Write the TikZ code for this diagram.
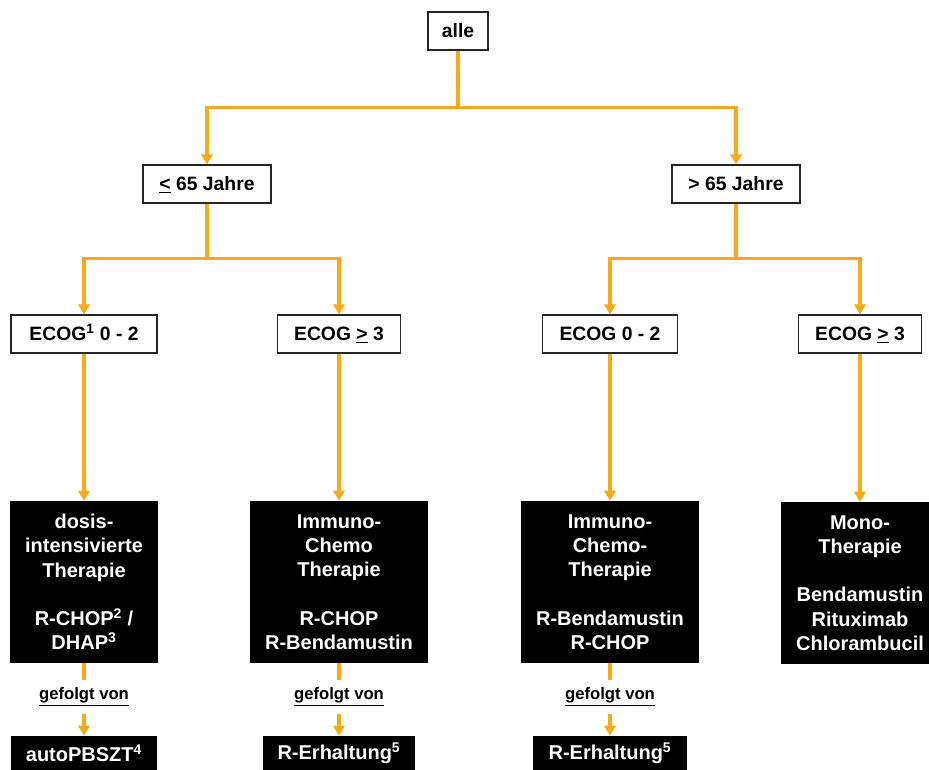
\documentclass[tikz,border=0pt]{standalone}
\usepackage{fontspec}
\setmainfont{Liberation Sans}
\usetikzlibrary{arrows.meta,positioning}
\definecolor{flowor}{RGB}{248,169,28}

\begin{document}
\begin{tikzpicture}[x=0.75pt,y=-0.75pt,
  box/.style={draw=black!85, line width=0.9pt, fill=white,
    font=\bfseries\fontsize{14.5}{18}\selectfont, minimum height=28.5pt,
    text height=10.5pt, text depth=1.5pt, inner sep=2pt},
  dark/.style={fill=black, text=white, align=center, inner sep=2pt,
    font=\bfseries\fontsize{15}{18.2}\selectfont},
  gef/.style={font=\bfseries\fontsize{12.5}{15}\selectfont, minimum height=25.5pt, inner sep=0pt},
  flow/.style={draw=flowor, line width=2.4pt},
  flowarr/.style={flow, -{Triangle[width=8.5pt,length=7.5pt]}}]
  \useasboundingbox (0,0) rectangle (929,769);
  % top levels
  \node (A) [box, minimum width=45pt] at (458,31) {alle};
  \node (Y) [box, minimum width=96pt] at (207,184) {\underline{<} 65 Jahre};
  \node (O) [box, minimum width=96pt] at (736,184) {> 65 Jahre};
  \node (Y1) [box, minimum width=109.5pt] at (84,334) {ECOG\textsuperscript{1} 0 - 2};
  \node (Y2) [box, minimum width=92pt] at (339,334) {ECOG \underline{>} 3};
  \node (O1) [box, minimum width=101pt] at (610,334) {ECOG 0 - 2};
  \node (O2) [box, minimum width=92pt] at (860,334) {ECOG \underline{>} 3};
  % therapies
  \node (T1) [dark, minimum width=111pt, minimum height=121.5pt] at (84,582)
    {dosis-\\intensivierte\\Therapie\\[18.2pt]R-CHOP\textsuperscript{2} /\\DHAP\textsuperscript{3}};
  \node (T2) [dark, minimum width=134pt, minimum height=121.5pt] at (339,582)
    {Immuno-\\Chemo\\Therapie\\[18.2pt]R-CHOP\\R-Bendamustin};
  \node (T3) [dark, minimum width=134pt, minimum height=121.5pt] at (610,582)
    {Immuno-\\Chemo-\\Therapie\\[18.2pt]R-Bendamustin\\R-CHOP};
  \node (T4) [dark, minimum width=118pt, minimum height=121.5pt] at (860,583)
    {Mono-\\Therapie\\[18.2pt]Bendamustin\\Rituximab\\Chlorambucil};
  % follow-up
  \node (G1) [gef] at (84,697) {\underline{gefolgt von}};
  \node (G2) [gef] at (339,697) {\underline{gefolgt von}};
  \node (G3) [gef] at (610,697) {\underline{gefolgt von}};
  \node (E1) [dark, minimum width=109pt, minimum height=25.5pt] at (84,753) {autoPBSZT\textsuperscript{4}};
  \node (E2) [dark, minimum width=114pt, minimum height=25.5pt] at (339,753) {R-Erhaltung\textsuperscript{5}};
  \node (E3) [dark, minimum width=115pt, minimum height=25.5pt] at (610,753) {R-Erhaltung\textsuperscript{5}};

  \draw[flowarr] (A.south) -- ++(0,57) -| (Y.north);
  \draw[flowarr] (A.south) -- ++(0,57) -| (O.north);
  \draw[flowarr] (Y.south) -- ++(0,55) -| (Y1.north);
  \draw[flowarr] (Y.south) -- ++(0,55) -| (Y2.north);
  \draw[flowarr] (O.south) -- ++(0,55) -| (O1.north);
  \draw[flowarr] (O.south) -- ++(0,55) -| (O2.north);
  \draw[flowarr] (Y1) -- (T1);
  \draw[flowarr] (Y2) -- (T2);
  \draw[flowarr] (O1) -- (T3);
  \draw[flowarr] (O2) -- (T4);
  \draw[flow] (T1) -- (G1);
  \draw[flow] (T2) -- (G2);
  \draw[flow] (T3) -- (G3);
  \draw[flowarr] (G1) -- (E1);
  \draw[flowarr] (G2) -- (E2);
  \draw[flowarr] (G3) -- (E3);
\end{tikzpicture}
\end{document}
